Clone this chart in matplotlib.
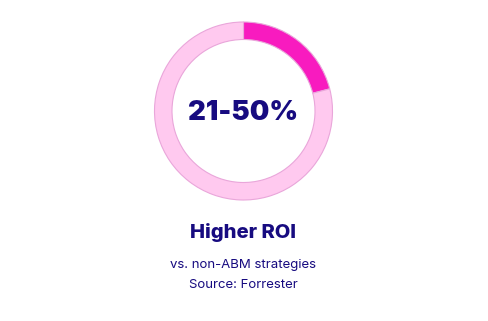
import matplotlib
matplotlib.use("Agg")
import matplotlib.pyplot as plt

segments = ["Higher ROI", "Rest"]
values = [21, 79]
colors = ["#F81BBF", "#FFC9EF"]
center_label = "21-50%"
title = "Higher ROI"
subtitle_lines = ["vs. non-ABM strategies", "Source: Forrester"]

W, H = 489, 321
fig = plt.figure(figsize=(W / 100, H / 100), dpi=100)
ax = fig.add_axes([0, 0, 1, 1])

cx, cy, r = 243.5, H - 111, 89
ax.pie(values, colors=colors, startangle=90, counterclock=False,
       center=(cx, cy), radius=r, frame=True,
       wedgeprops=dict(width=17.5, edgecolor="#E9A6DA", linewidth=0.8))
ax.set_xlim(0, W)
ax.set_ylim(0, H)
ax.set_aspect("equal")
ax.axis("off")

navy = "#170B80"
ax.text(cx - 0.5, cy - 1.5, center_label, ha="center", va="center", fontsize=19.8,
        fontweight=900, color=navy, family="Inter")
ax.text(243, H - 232, title, ha="center", va="center", fontsize=14.5,
        fontweight=800, color=navy, family="Inter")
ax.text(243, H - 265, subtitle_lines[0], ha="center", va="center",
        fontsize=9.5, color=navy, family="Inter")
ax.text(243, H - 285, subtitle_lines[1], ha="center", va="center",
        fontsize=9.5, color=navy, family="Inter")

fig.savefig("out.png", dpi=100)
